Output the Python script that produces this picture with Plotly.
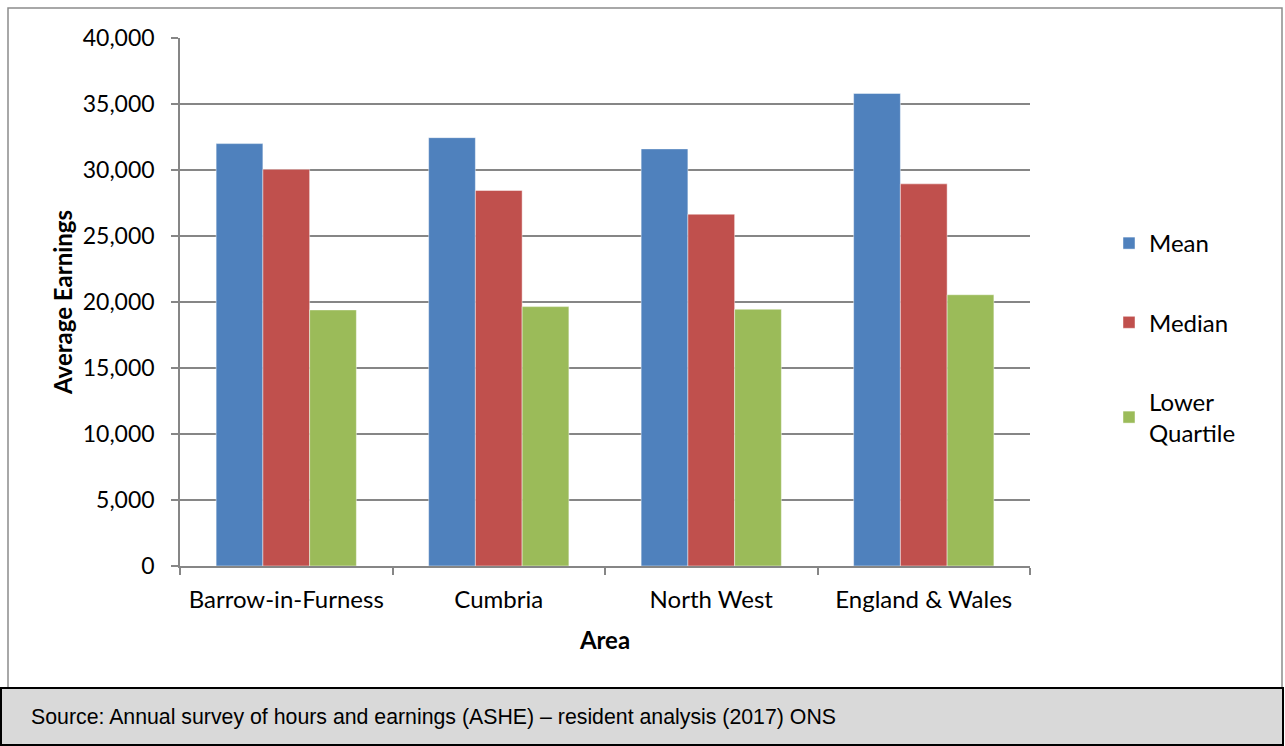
import plotly.graph_objects as go

W, H = 1285, 746

areas = ["Barrow-in-Furness", "Cumbria", "North West", "England & Wales"]
mean_earnings = [32000, 32450, 31600, 35800]
median_earnings = [30050, 28450, 26650, 28950]
lower_quartile = [19400, 19650, 19450, 20550]

series_names = ["Mean", "Median", "Lower<br>Quartile"]
series_colors = ["#4F81BD", "#C0504D", "#9BBB59"]
y_ticks = list(range(0, 40001, 5000))

source_note = "Source: Annual survey of hours and earnings (ASHE) \u2013 resident analysis (2017) ONS"

FONT = "Lato"


def px_x(v):
    return v / W


def px_y(v):
    return 1 - v / H


fig = go.Figure()
for i, (name, vals, col) in enumerate(zip(series_names,
                                          [mean_earnings, median_earnings, lower_quartile],
                                          series_colors)):
    fig.add_trace(go.Bar(
        x=areas, y=vals, name=name,
        marker=dict(color=col, line=dict(color="rgba(255,255,255,0.45)", width=1)),
        legendgroup=f"g{i}",
    ))

fig.update_layout(
    width=W, height=H,
    margin=dict(l=0, r=0, t=0, b=0, pad=0, autoexpand=False),
    paper_bgcolor="white", plot_bgcolor="white",
    barmode="group", bargap=0.34, bargroupgap=0,
    font=dict(family=FONT, size=23, color="black"),
    showlegend=True,
    legend=dict(
        x=px_x(1109), y=px_y(221), xanchor="left", yanchor="top",
        traceorder="grouped", tracegroupgap=45,
        font=dict(family=FONT, size=24, color="black"),
        itemwidth=30, bgcolor="rgba(0,0,0,0)",
    ),
    xaxis=dict(
        domain=[px_x(180), px_x(1030)], automargin=False,
        showgrid=False, showline=True, linecolor="#868686", linewidth=1.5,
        ticks="outside", tickson="boundaries", ticklen=7, tickcolor="#868686", tickwidth=1.5,
        tickfont=dict(family=FONT, size=24),
        ticklabelstandoff=11,
        title=dict(text="<b>Area</b>", font=dict(family=FONT, size=24), standoff=21),
    ),
    yaxis=dict(
        domain=[px_y(566), px_y(38)], automargin=False,
        range=[0, 40000], tickvals=y_ticks,
        ticktext=[f"{v:,}" for v in y_ticks],
        showgrid=True, gridcolor="#868686", gridwidth=1.5,
        showline=True, linecolor="#868686", linewidth=1.5,
        ticks="outside", ticklen=7, tickcolor="#868686", tickwidth=1.5,
        tickfont=dict(family=FONT, size=23),
        ticklabelstandoff=12,
        zeroline=False,
        title=dict(text="<b>Average Earnings</b>", font=dict(family=FONT, size=24), standoff=3),
    ),
    shapes=[
        # chart frame
        dict(type="rect", xref="paper", yref="paper",
             x0=px_x(8), x1=px_x(1282), y0=px_y(688), y1=px_y(8),
             line=dict(color="#8c8c8c", width=1.5), fillcolor="rgba(0,0,0,0)", layer="below"),
        # source footer box
        dict(type="rect", xref="paper", yref="paper",
             x0=px_x(1), x1=px_x(1283), y0=px_y(745), y1=px_y(688),
             line=dict(color="black", width=2), fillcolor="#D9D9D9", layer="below"),
    ],
    annotations=[
        dict(text=source_note, xref="paper", yref="paper",
             x=px_x(29), y=px_y(717), xanchor="left", yanchor="middle", showarrow=False,
             font=dict(family="Liberation Sans", size=21.3, color="black")),
    ],
)

fig.write_html("out.html")
